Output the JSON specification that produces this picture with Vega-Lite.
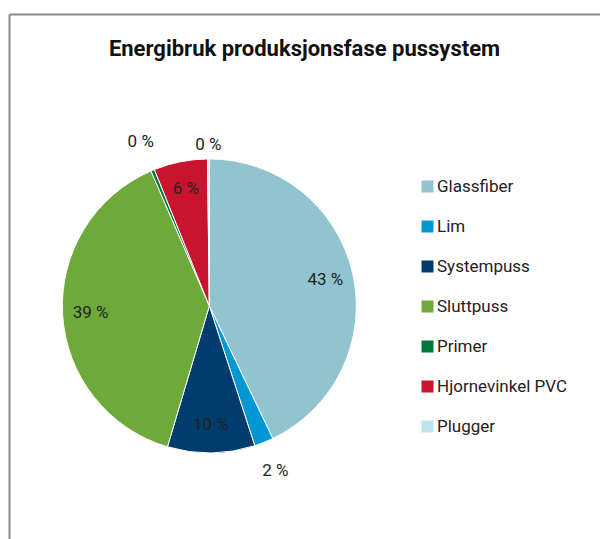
{
  "$schema": "https://vega.github.io/schema/vega-lite/v6.json",
  "autosize": {"type": "none"},
  "padding": {"left": 9, "top": 14, "right": 0, "bottom": 0},
  "width": 591,
  "height": 525,
  "background": "white",
  "config": {"view": {"stroke": null}},
  "title": {
    "text": "Energibruk produksjonsfase pussystem",
    "font": "Roboto",
    "fontSize": 22,
    "fontWeight": "bold",
    "color": "#111111",
    "anchor": "middle",
    "frame": "group",
    "baseline": "alphabetic",
    "offset": -64
  },
  "data": {
    "values": [
      {"i": 1, "komponent": "Glassfiber", "andel": 42.9, "etikett": "43 %"},
      {"i": 2, "komponent": "Lim", "andel": 2.1, "etikett": "2 %"},
      {"i": 3, "komponent": "Systempuss", "andel": 9.6, "etikett": "10 %"},
      {"i": 4, "komponent": "Sluttpuss", "andel": 38.9, "etikett": "39 %"},
      {"i": 5, "komponent": "Primer", "andel": 0.4, "etikett": "0 %"},
      {"i": 6, "komponent": "Hjornevinkel PVC", "andel": 5.9, "etikett": "6 %"},
      {"i": 7, "komponent": "Plugger", "andel": 0.2, "etikett": "0 %"}
    ]
  },
  "encoding": {
    "theta": {"field": "andel", "type": "quantitative", "stack": true},
    "order": {"field": "i", "type": "quantitative"},
    "x": {
      "datum": 0.339, "type": "quantitative",
      "scale": {"domain": [0, 1]},
      "axis": {"orient": "top", "domain": true, "domainColor": "#8a8a8a", "domainWidth": 2, "ticks": false, "labels": false, "grid": false, "title": null}
    },
    "y": {
      "datum": 0.444, "type": "quantitative",
      "scale": {"domain": [0, 1]},
      "axis": {"orient": "left", "domain": true, "domainColor": "#8a8a8a", "domainWidth": 2, "ticks": false, "labels": false, "grid": false, "title": null}
    }
  },
  "layer": [
    {
      "mark": {"type": "arc", "radius": 147, "stroke": "white", "strokeWidth": 1},
      "encoding": {
        "color": {
          "field": "komponent", "type": "nominal",
          "scale": {
            "domain": ["Glassfiber", "Lim", "Systempuss", "Sluttpuss", "Primer", "Hjornevinkel PVC", "Plugger"],
            "range": ["#91C4CF", "#0098D4", "#003D6E", "#6DAA3A", "#00783D", "#C8142F", "#BDE4EE"]
          },
          "legend": {
            "title": null,
            "orient": "none",
            "legendX": 410,
            "legendY": 164,
            "symbolType": "square",
            "symbolSize": 144,
            "symbolStrokeWidth": 0,
            "labelFont": "Roboto",
            "labelFontSize": 17,
            "labelColor": "#222222",
            "labelOffset": 1,
            "rowPadding": 22,
            "padding": 0
          }
        }
      }
    },
    {
      "mark": {
        "type": "text",
        "font": "Roboto",
        "fontSize": 17,
        "color": "#222222",
        "radius": {"expr": "datum.andel < 0.3 ? 161 : datum.andel < 3 ? 178 : 119"}
      },
      "encoding": {
        "text": {"field": "etikett", "type": "nominal"}
      }
    }
  ]
}
